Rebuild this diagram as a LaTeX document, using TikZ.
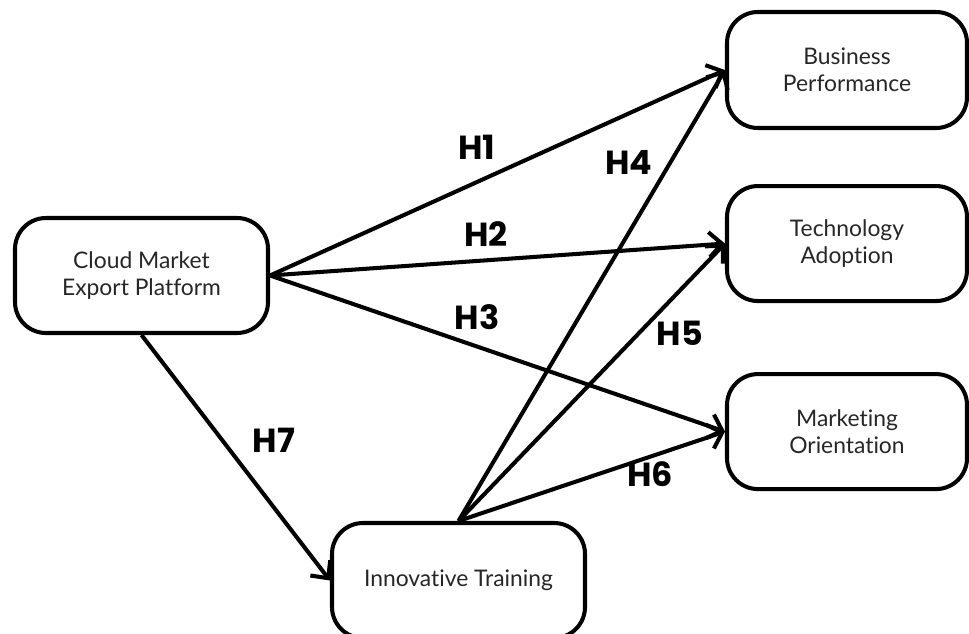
\documentclass[tikz,border=0pt]{standalone}
\usepackage{fontspec}
\setmainfont{Lato}[Ligatures=NoCommon]
\newfontfamily\labelfont{Poppins}
\usepackage{tikz}
\usetikzlibrary{arrows.meta, positioning}
\tikzstyle{construct} = [rectangle, rounded corners=0.62cm, minimum width=5.06cm, minimum height=2.3cm, text centered, align=center, draw=black, line width=2.3pt, text=black!85, font=\fontsize{13}{15.4}\selectfont]
\tikzstyle{hyp} = [font=\labelfont\bfseries\fontsize{19}{21}\selectfont, inner sep=0pt]
\tikzstyle{arrow} = [line width=2.3pt, ->, >={Straight Barb[length=2.6mm, width=5mm]}]

\begin{document}
\begin{tikzpicture}
    \useasboundingbox (0,0) rectangle (19.38,12.66);

    % --- Constructs ---
    \node (cmep) [construct] at (2.83,7.15) {Cloud Market\\Export Platform};
    \node (bp) [construct, minimum width=4.8cm, minimum height=2.32cm] at (16.94,11.26) {Business\\Performance};
    \node (ta) [construct, minimum width=4.8cm, below=1.08cm of bp] {Technology\\Adoption};
    \node (mo) [construct, minimum width=4.8cm, below=1.38cm of ta] {Marketing\\Orientation};
    \node (it) [construct] at (9.17,1.05) {Innovative Training};

    % --- Hypotheses ---
    \draw [arrow] (cmep.east) -- (bp.west);
    \draw [arrow] (cmep.east) -- (ta.west);
    \draw [arrow] (cmep.east) -- (mo.west);
    \draw [arrow] (cmep.south) -- (it.west);
    \draw [arrow] (it.north) -- (bp.west);
    \draw [arrow] (it.north) -- (ta.west);
    \draw [arrow] (it.north) -- (mo.west);

    % Labels
    \node (h1) [hyp] at (9.54,9.72) {H1};
    \node (h2) [hyp] at (9.72,7.98) {H2};
    \node (h3) [hyp] at (9.54,6.32) {H3};
    \node (h4) [hyp] at (12.58,9.42) {H4};
    \node (h5) [hyp] at (13.6,6.0) {H5};
    \node (h6) [hyp] at (13.0,3.18) {H6};
    \node (h7) [hyp] at (5.48,3.86) {H7};

\end{tikzpicture}
\end{document}
